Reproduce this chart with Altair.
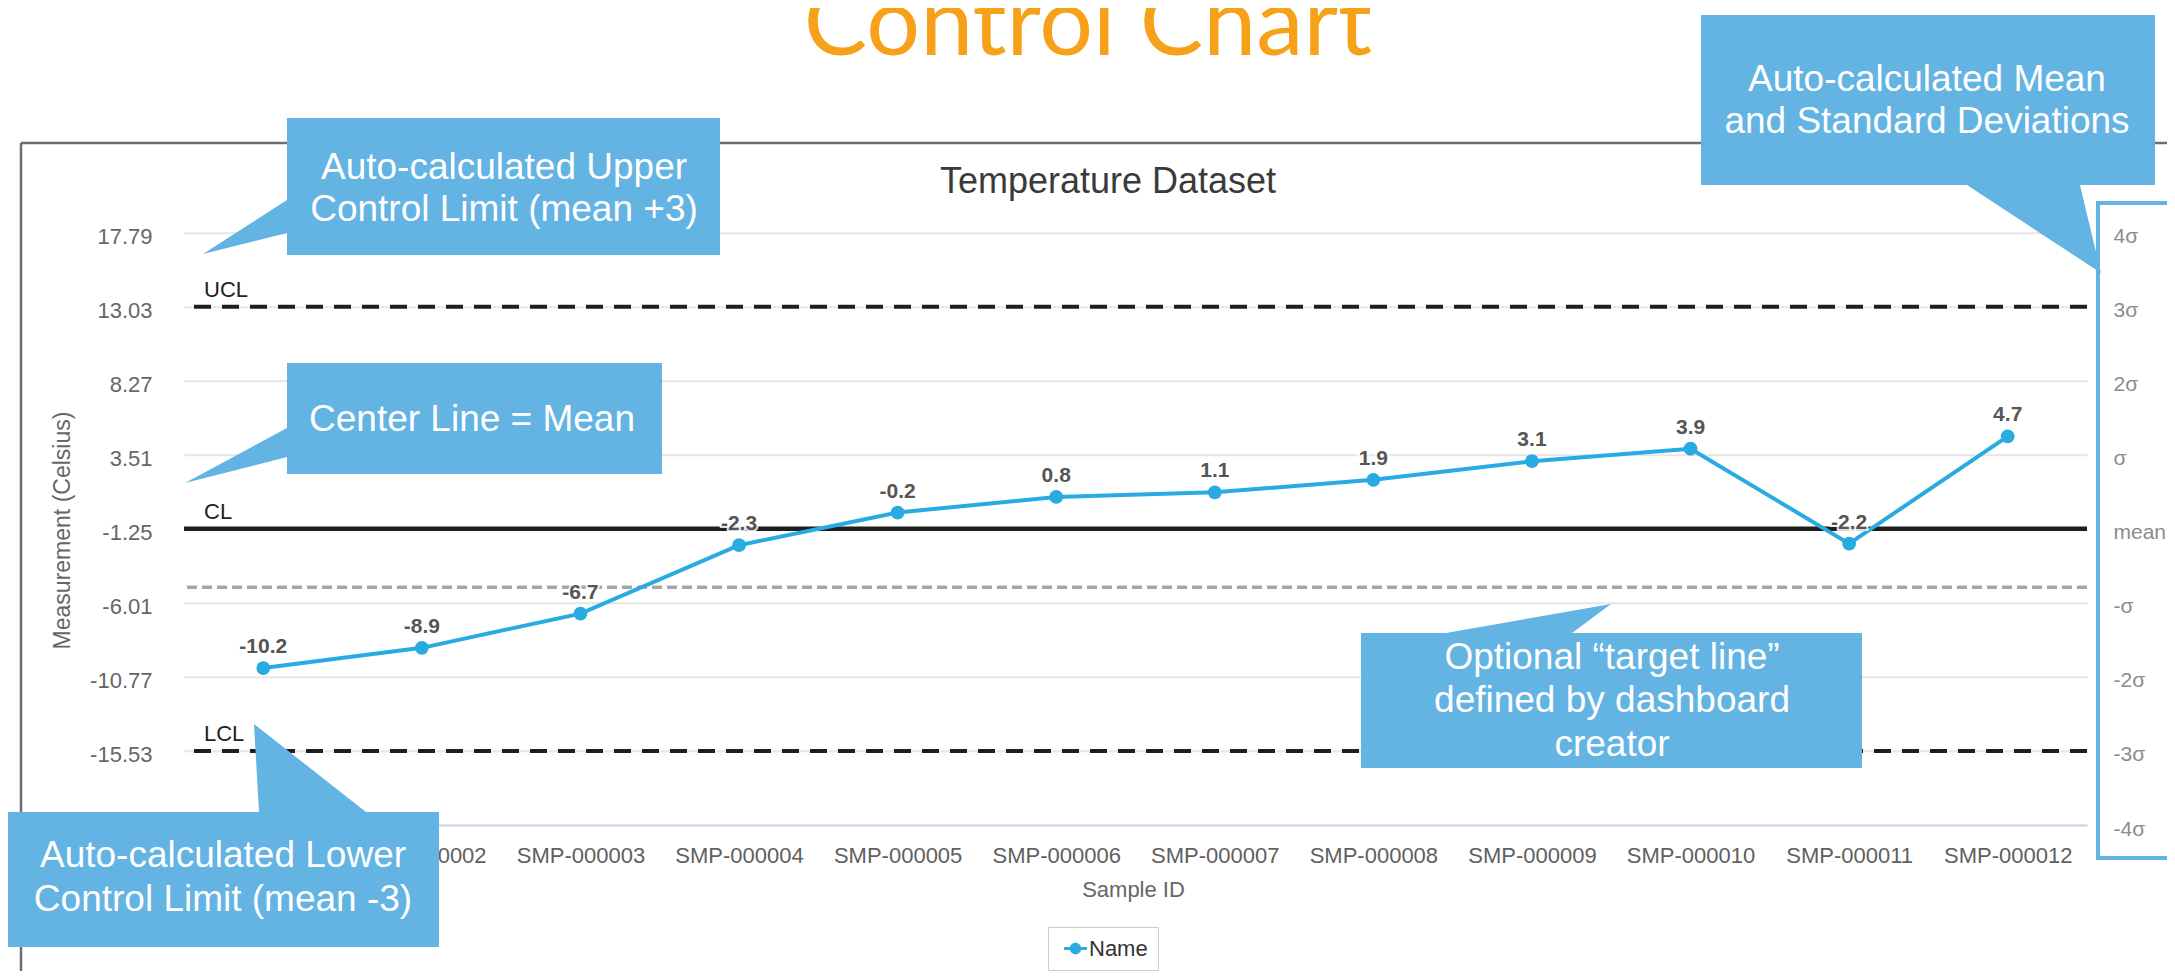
import altair as alt
import pandas as pd

# ---------------- data ----------------
sample_ids = ["SMP-000001", "SMP-000002", "SMP-000003", "SMP-000004", "SMP-000005", "SMP-000006",
              "SMP-000007", "SMP-000008", "SMP-000009", "SMP-000010", "SMP-000011", "SMP-000012"]
measurements = [-10.2, -8.9, -6.7, -2.3, -0.2, 0.8, 1.1, 1.9, 3.1, 3.9, -2.2, 4.7]
point_labels = ["-10.2", "-8.9", "-6.7", "-2.3", "-0.2", "0.8", "1.1", "1.9", "3.1", "3.9", "-2.2", "4.7"]
series_names = ["Name"] * 12

limit_names = ["UCL", "CL", "LCL"]
limit_values = [13.03, -1.25, -15.53]
target_values = [-5.0]

y_tick_values = [-20.29, -15.53, -10.77, -6.01, -1.25, 3.51, 8.27, 13.03, 17.79]
y_tick_labels = ["-20.29", "-15.53", "-10.77", "-6.01", "-1.25", "3.51", "8.27", "13.03", "17.79"]
sigma_labels = ["-4σ", "-3σ", "-2σ", "-σ", "mean", "σ", "2σ", "3σ", "4σ"]

page_title = "Control Chart"
chart_title = "Temperature Dataset"
x_title = "Sample ID"
y_title = "Measurement (Celsius)"
callout_texts = [
    ["Auto-calculated Upper", "Control Limit (mean +3)"],
    ["Center Line = Mean"],
    ["Auto-calculated Lower", "Control Limit (mean -3)"],
    ["Auto-calculated Mean", "and Standard Deviations"],
    ["Optional “target line”", "defined by dashboard", "creator"],
]

# ---------------- layout / style ----------------
OX, OY = 184.0, 232.7          # plot origin on the page
PW, PH = 1903, 592.3           # plot size
SVG_W, SVG_H = 2159, 963
PAGE_M = 8

LINE_COLOR = "#29abe2"
CALLOUT_COLOR = "#63b3e3"
ORANGE = "#f7a11a"
FONT = "Liberation Sans"

callout_shapes = [
    [(720, 118), (720, 255), (287, 255), (287, 233), (203, 254), (287, 200), (287, 118)],
    [(662, 363), (662, 474), (287, 474), (287, 457), (185, 483), (287, 428), (287, 363)],
    [(6, 812), (259, 812), (254, 724), (366, 812), (439, 812), (439, 947), (6, 947)],
    [(1701, 15), (2155, 15), (2155, 185), (2080, 185), (2101, 273), (1967, 185), (1701, 185)],
    [(1361, 633), (1446, 633), (1611, 604), (1572, 633), (1862, 633), (1862, 768), (1361, 768)],
]
callout_text_pos = [
    [(504, 168), (504, 210)],
    [(472, 420)],
    [(223, 856), (223, 900)],
    [(1927, 80), (1927, 122)],
    [(1612, 658), (1612, 701), (1612, 745)],
]


def rx(x):
    return x - OX


def ry(y):
    return y - OY


def label_expr(vals, labels):
    parts = [f"datum.value == {v} ? '{l}'" for v, l in zip(vals, labels)]
    return " : ".join(parts) + " : ''"


# ---------------- tables ----------------
main_df = pd.DataFrame({"sample": sample_ids, "value": measurements,
                        "label": point_labels, "series": series_names})
limit_df = pd.DataFrame({"name": limit_names, "value": limit_values})
target_df = pd.DataFrame({"value": target_values})
sigma_df = pd.DataFrame({"value": y_tick_values, "sig": sigma_labels})
one_df = pd.DataFrame({"a": [0]})

paths = []
for poly in callout_shapes:
    pts = " L".join(f"{rx(x):.1f},{ry(y):.1f}" for x, y in poly)
    paths.append("M" + pts + " Z")
shape_df = pd.DataFrame({"path": paths})

txt_rows = []
for lines, poss in zip(callout_texts, callout_text_pos):
    for t, (x, y) in zip(lines, poss):
        txt_rows.append({"t": t, "px": rx(x), "py": ry(y)})
callout_txt_df = pd.DataFrame(txt_rows)

# ---------------- scales / axes ----------------
yscale = alt.Scale(domain=[y_tick_values[0], y_tick_values[-1]], nice=False, zero=False)
xscale = alt.Scale(type="point", padding=0.5)

left_axis = alt.Axis(
    title=y_title, values=y_tick_values, labelExpr=label_expr(y_tick_values, y_tick_labels),
    domain=False, ticks=False, grid=True, gridColor="#e6e6e6", gridWidth=2,
    labelFont=FONT, labelFontSize=22, labelColor="#666666", labelPadding=32,
    labelOffset=4, labelBaseline="middle",
    titleFont=FONT, titleFontSize=23, titleFontWeight="normal", titleColor="#666666",
    titleX=rx(62), titleY=ry(530), titleAngle=270, titleAlign="center", titleBaseline="middle",
    zindex=0,
)
bottom_axis = alt.Axis(
    title=x_title, labelAngle=0, labelOverlap=False, domain=True, domainColor="#ccd6eb",
    domainWidth=2, ticks=False, grid=False,
    labelFont=FONT, labelFontSize=22, labelColor="#606060", labelPadding=20,
    titleFont=FONT, titleFontSize=22, titleFontWeight="normal", titleColor="#666666",
    titleX=rx(1133), titleY=889 - (OY + PH), titleBaseline="middle", titleAlign="center",
    zindex=0,
)
right_axis = alt.Axis(
    orient="right", title=None, values=y_tick_values, labelExpr=label_expr(y_tick_values, sigma_labels),
    domain=False, ticks=False, grid=False, labelAlign="left", labelBaseline="middle",
    labelFont=FONT, labelFontSize=21, labelColor="#8c8c8c", labelPadding=26, labelOffset=4,
    zindex=0,
)

x_enc = alt.X("sample:N", sort=sample_ids, scale=xscale, axis=bottom_axis)
x_enc_noaxis = alt.X("sample:N", sort=sample_ids, scale=xscale, axis=None)
y_noaxis = alt.Y("value:Q", scale=yscale, axis=None)

symbol_path = ("M-1,-0.12 L1,-0.12 L1,0.12 L-1,0.12 Z "
               "M-0.5,0 A0.5,0.5 0 1,1 0.5,0 A0.5,0.5 0 1,1 -0.5,0 Z")

# ---------------- chart layers ----------------
target_rule = alt.Chart(target_df).mark_rule(color="#a6a6a6", strokeWidth=3.5, strokeDash=[10, 5]).encode(
    y=y_noaxis)

dashed_rules = alt.Chart(limit_df).transform_filter(alt.datum.name != "CL").mark_rule(
    color="#1e1e1e", strokeWidth=4, strokeDash=[17, 11]).encode(y=y_noaxis)

cl_rule = alt.Chart(limit_df).transform_filter(alt.datum.name == "CL").mark_rule(
    color="#1e1e1e", strokeWidth=4.5).encode(y=y_noaxis)

limit_text = alt.Chart(limit_df).mark_text(
    align="left", baseline="middle", dy=-17, font=FONT, fontSize=22, color="#222222").encode(
    x=alt.value(20), y=y_noaxis, text="name:N")

line = alt.Chart(main_df).mark_line(color=LINE_COLOR, strokeWidth=4).encode(
    x=x_enc, y=alt.Y("value:Q", scale=yscale, axis=left_axis))

points = alt.Chart(main_df).mark_point(filled=True, size=190, opacity=1, strokeWidth=0).encode(
    x=x_enc_noaxis, y=y_noaxis,
    color=alt.Color("series:N", scale=alt.Scale(domain=["Name"], range=[LINE_COLOR]),
                    legend=alt.Legend(title=None, orient="none", legendX=rx(1048), legendY=ry(927),
                                      symbolType=symbol_path, symbolSize=529, symbolStrokeWidth=0,
                                      labelFont=FONT, labelFontSize=22, labelColor="#333333",
                                      strokeColor="#cccccc", padding=10, symbolOffset=6,
                                      labelOffset=2)))

halo = alt.Chart(main_df).mark_text(
    dy=-21, font=FONT, fontSize=21, fontWeight="bold", color="white", stroke="white",
    strokeWidth=4, strokeOpacity=0.85).encode(x=x_enc_noaxis, y=y_noaxis, text="label:N")

labels = alt.Chart(main_df).mark_text(
    dy=-21, font=FONT, fontSize=21, fontWeight="bold", color="#555555").encode(
    x=x_enc_noaxis, y=y_noaxis, text="label:N")

sigma_layer = alt.Chart(sigma_df).mark_point(opacity=0).encode(
    y=alt.Y("value:Q", scale=yscale, axis=right_axis))

# ---------------- annotations ----------------
frame_left = alt.Chart(one_df).mark_rule(color="#6e6e6e", strokeWidth=2.5).encode(
    x=alt.value(rx(21)), y=alt.value(ry(143)), y2=alt.value(ry(1000)))
frame_top = alt.Chart(one_df).mark_rule(color="#6e6e6e", strokeWidth=2.5).encode(
    x=alt.value(rx(21)), x2=alt.value(rx(2220)), y=alt.value(ry(143)))

sigma_box = alt.Chart(one_df).mark_rect(filled=False, color=CALLOUT_COLOR, strokeWidth=4).encode(
    x=alt.value(rx(2098)), x2=alt.value(rx(2230)), y=alt.value(ry(203)), y2=alt.value(ry(858)))

callouts = alt.Chart(shape_df).mark_point(filled=True, size=4, opacity=1, strokeWidth=0,
                                          color=CALLOUT_COLOR).encode(
    x=alt.value(0), y=alt.value(0), shape=alt.Shape("path:N", scale=None, legend=None))

callout_text = alt.Chart(callout_txt_df).mark_text(
    align="center", baseline="middle", font=FONT, fontSize=37, color="white").encode(
    x=alt.X("px:Q", scale=None, axis=None), y=alt.Y("py:Q", scale=None, axis=None), text="t:N")

title_text = alt.Chart(one_df).mark_text(
    align="center", baseline="alphabetic", font="Lato", fontSize=95,
    color=ORANGE).encode(x=alt.value(rx(1088)), y=alt.value(ry(55)), text=alt.value(page_title))

subtitle_text = alt.Chart(one_df).mark_text(
    align="center", baseline="alphabetic", font=FONT, fontSize=36, color="#3a3a3a").encode(
    x=alt.value(rx(1108)), y=alt.value(ry(193)), text=alt.value(chart_title))

chart = alt.layer(
    frame_left, frame_top, target_rule, dashed_rules, cl_rule, line, points, halo, labels,
    limit_text, sigma_layer, subtitle_text, sigma_box, callouts, callout_text, title_text
).resolve_axis(x="independent", y="independent").properties(
    width=PW, height=PH,
    autosize=alt.AutoSizeParams(type="none"),
    padding={"left": OX - PAGE_M, "top": OY - PAGE_M,
             "right": SVG_W - (OX - PAGE_M) - PW, "bottom": SVG_H - (OY - PAGE_M) - PH},
    background="white",
).configure_view(stroke="transparent")

chart.save("out.html", embed_options={"renderer": "svg", "actions": False})
